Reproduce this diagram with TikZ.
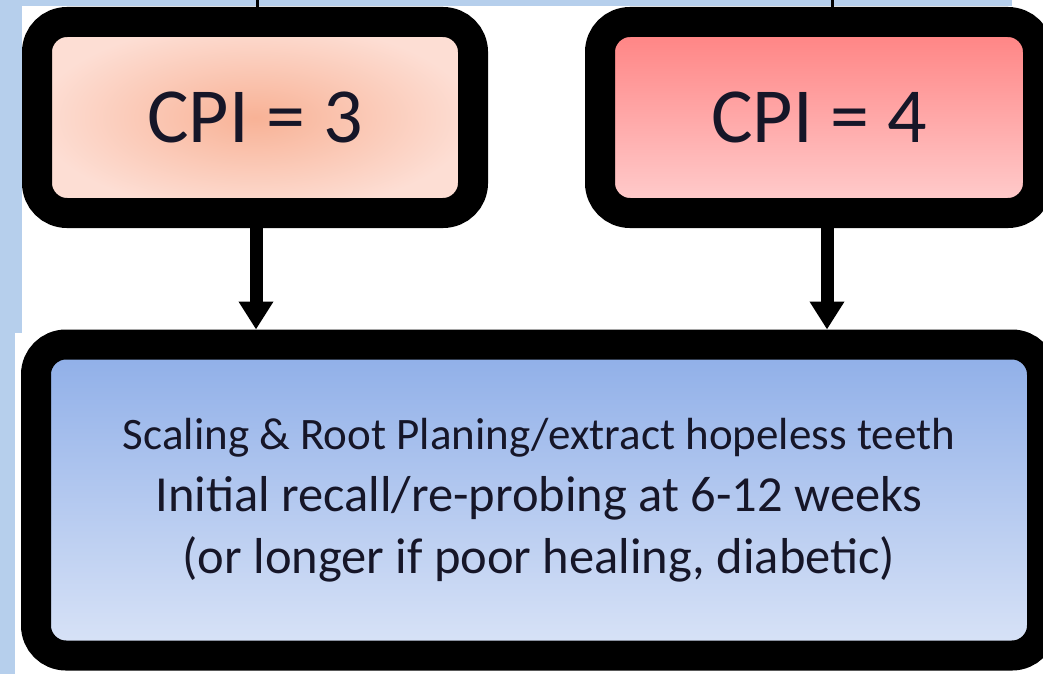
\documentclass[tikz,border=0pt]{standalone}
\usepackage{fontspec}
\setmainfont{Carlito}
\usepackage{xcolor}
\usetikzlibrary{arrows.meta}

\definecolor{stripblue}{RGB}{182,207,236}
\definecolor{peachmid}{RGB}{248,178,150}
\definecolor{peachedge}{RGB}{253,222,212}
\definecolor{redtop}{RGB}{255,128,128}
\definecolor{redbottom}{RGB}{255,208,208}
\definecolor{bluetop}{RGB}{142,174,232}
\definecolor{bluebottom}{RGB}{218,228,247}
\definecolor{inkdark}{RGB}{22,22,40}

\tikzset{
	cpibox/.style={draw=black, line width=30pt, rounded corners=30pt, minimum height=191pt, text=inkdark, font=\fontsize{78}{90}\selectfont},
	stepsbox/.style={draw=black, line width=30pt, rounded corners=30pt, minimum width=1006pt, minimum height=311pt, text=inkdark, align=center, font=\fontsize{50.5}{62}\selectfont},
	flowarrow/.style={line width=13pt, -{Triangle[width=33pt,length=28pt]}},
	stubline/.style={line width=3pt}
}

\begin{document}
\begin{tikzpicture}[x=1pt,y=-1pt]
					\useasboundingbox (0,0) rectangle (1043,674);

					\fill[stripblue] (0,0) rectangle (1012,6);
					\fill[stripblue] (0,0) rectangle (22,333);
					\fill[stripblue] (0,333) rectangle (15,674);

					\draw
						(255,117.5) node[cpibox, minimum width=436pt, inner color=peachmid, outer color=peachedge] (cpi3) {CPI = 3}
						(819,117.5) node[cpibox, minimum width=438pt, top color=redtop, bottom color=redbottom] (cpi4) {CPI = 4};

					\draw
						(539,500) node[stepsbox, top color=bluetop, bottom color=bluebottom] (srp) {{\fontsize{45}{62}\selectfont Scaling \& Root Planing/extract hopeless teeth}\\Initial recall/re-probing at 6-12 weeks\\(or longer if poor healing, diabetic)};

					\coordinate (in3) at (257,0);
					\coordinate (in4) at (832,0);

					\draw[stubline]
						(in3) -- (in3 |- cpi3.north)
						(in4) -- (in4 |- cpi4.north);

					\draw[flowarrow] ([xshift=1pt]cpi3.south) -- ([xshift=1pt]cpi3.south |- srp.north);
					\draw[flowarrow] ([xshift=8pt]cpi4.south) -- ([xshift=8pt]cpi4.south |- srp.north);
				\end{tikzpicture}
\end{document}
